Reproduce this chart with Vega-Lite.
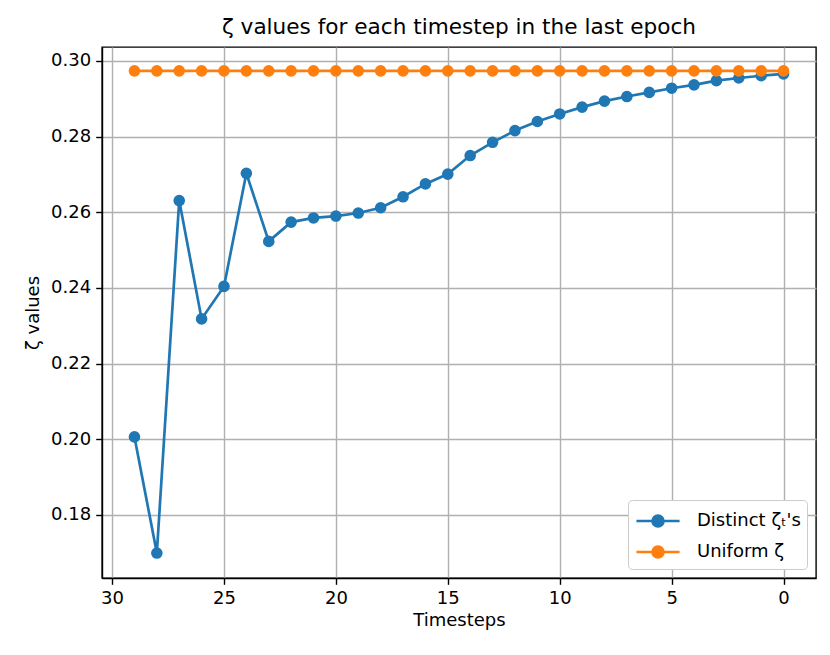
{
  "$schema": "https://vega.github.io/schema/vega-lite/v6.json",
  "width": 714,
  "height": 531,
  "autosize": {"type": "none"},
  "padding": {"left": 102, "top": 47, "right": 14, "bottom": 77},
  "background": "white",
  "title": {
    "text": "ζ values for each timestep in the last epoch",
    "font": "DejaVu Sans",
    "fontSize": 21.6,
    "fontWeight": "normal",
    "color": "black",
    "offset": 8
  },
  "config": {
    "view": {"stroke": "black", "strokeWidth": 1.4},
    "font": "DejaVu Sans",
    "axis": {
      "labelFont": "DejaVu Sans",
      "labelFontSize": 18,
      "labelColor": "black",
      "titleFont": "DejaVu Sans",
      "titleFontSize": 18,
      "titleFontWeight": "normal",
      "titleColor": "black",
      "domainColor": "black",
      "domainWidth": 1.4,
      "tickColor": "black",
      "tickSize": 6.3,
      "tickWidth": 1.4,
      "gridColor": "#b0b0b0",
      "gridWidth": 1.4,
      "gridOpacity": 1,
      "labelPadding": 5
    }
  },
  "data": {
    "values": [
      {"t": 29, "z": 0.2006, "series": "Distinct ζₜ's"},
      {"t": 28, "z": 0.1699, "series": "Distinct ζₜ's"},
      {"t": 27, "z": 0.2631, "series": "Distinct ζₜ's"},
      {"t": 26, "z": 0.2318, "series": "Distinct ζₜ's"},
      {"t": 25, "z": 0.2404, "series": "Distinct ζₜ's"},
      {"t": 24, "z": 0.2703, "series": "Distinct ζₜ's"},
      {"t": 23, "z": 0.2523, "series": "Distinct ζₜ's"},
      {"t": 22, "z": 0.2574, "series": "Distinct ζₜ's"},
      {"t": 21, "z": 0.2585, "series": "Distinct ζₜ's"},
      {"t": 20, "z": 0.2590, "series": "Distinct ζₜ's"},
      {"t": 19, "z": 0.2598, "series": "Distinct ζₜ's"},
      {"t": 18, "z": 0.2612, "series": "Distinct ζₜ's"},
      {"t": 17, "z": 0.2641, "series": "Distinct ζₜ's"},
      {"t": 16, "z": 0.2675, "series": "Distinct ζₜ's"},
      {"t": 15, "z": 0.2701, "series": "Distinct ζₜ's"},
      {"t": 14, "z": 0.2750, "series": "Distinct ζₜ's"},
      {"t": 13, "z": 0.2785, "series": "Distinct ζₜ's"},
      {"t": 12, "z": 0.2816, "series": "Distinct ζₜ's"},
      {"t": 11, "z": 0.2840, "series": "Distinct ζₜ's"},
      {"t": 10, "z": 0.2860, "series": "Distinct ζₜ's"},
      {"t": 9, "z": 0.2878, "series": "Distinct ζₜ's"},
      {"t": 8, "z": 0.2894, "series": "Distinct ζₜ's"},
      {"t": 7, "z": 0.2906, "series": "Distinct ζₜ's"},
      {"t": 6, "z": 0.2917, "series": "Distinct ζₜ's"},
      {"t": 5, "z": 0.2928, "series": "Distinct ζₜ's"},
      {"t": 4, "z": 0.2937, "series": "Distinct ζₜ's"},
      {"t": 3, "z": 0.2948, "series": "Distinct ζₜ's"},
      {"t": 2, "z": 0.2955, "series": "Distinct ζₜ's"},
      {"t": 1, "z": 0.2961, "series": "Distinct ζₜ's"},
      {"t": 0, "z": 0.2966, "series": "Distinct ζₜ's"},
      {"t": 29, "z": 0.2974, "series": "Uniform ζ"},
      {"t": 28, "z": 0.2974, "series": "Uniform ζ"},
      {"t": 27, "z": 0.2974, "series": "Uniform ζ"},
      {"t": 26, "z": 0.2974, "series": "Uniform ζ"},
      {"t": 25, "z": 0.2974, "series": "Uniform ζ"},
      {"t": 24, "z": 0.2974, "series": "Uniform ζ"},
      {"t": 23, "z": 0.2974, "series": "Uniform ζ"},
      {"t": 22, "z": 0.2974, "series": "Uniform ζ"},
      {"t": 21, "z": 0.2974, "series": "Uniform ζ"},
      {"t": 20, "z": 0.2974, "series": "Uniform ζ"},
      {"t": 19, "z": 0.2974, "series": "Uniform ζ"},
      {"t": 18, "z": 0.2974, "series": "Uniform ζ"},
      {"t": 17, "z": 0.2974, "series": "Uniform ζ"},
      {"t": 16, "z": 0.2974, "series": "Uniform ζ"},
      {"t": 15, "z": 0.2974, "series": "Uniform ζ"},
      {"t": 14, "z": 0.2974, "series": "Uniform ζ"},
      {"t": 13, "z": 0.2974, "series": "Uniform ζ"},
      {"t": 12, "z": 0.2974, "series": "Uniform ζ"},
      {"t": 11, "z": 0.2974, "series": "Uniform ζ"},
      {"t": 10, "z": 0.2974, "series": "Uniform ζ"},
      {"t": 9, "z": 0.2974, "series": "Uniform ζ"},
      {"t": 8, "z": 0.2974, "series": "Uniform ζ"},
      {"t": 7, "z": 0.2974, "series": "Uniform ζ"},
      {"t": 6, "z": 0.2974, "series": "Uniform ζ"},
      {"t": 5, "z": 0.2974, "series": "Uniform ζ"},
      {"t": 4, "z": 0.2974, "series": "Uniform ζ"},
      {"t": 3, "z": 0.2974, "series": "Uniform ζ"},
      {"t": 2, "z": 0.2974, "series": "Uniform ζ"},
      {"t": 1, "z": 0.2974, "series": "Uniform ζ"},
      {"t": 0, "z": 0.2974, "series": "Uniform ζ"}
    ]
  },
  "encoding": {
    "x": {
      "field": "t",
      "type": "quantitative",
      "title": "Timesteps",
      "scale": {"domain": [-1.45, 30.45], "reverse": true, "nice": false, "zero": false},
      "axis": {"values": [0, 5, 10, 15, 20, 25, 30], "format": "d", "titlePadding": 4}
    },
    "y": {
      "field": "z",
      "type": "quantitative",
      "title": "ζ values",
      "scale": {"domain": [0.1633, 0.3037], "nice": false, "zero": false},
      "axis": {"values": [0.18, 0.20, 0.22, 0.24, 0.26, 0.28, 0.30], "format": ".2f", "titlePadding": 8}
    },
    "color": {
      "field": "series",
      "type": "nominal",
      "scale": {"domain": ["Distinct ζₜ's", "Uniform ζ"], "range": ["#1f77b4", "#ff7f0e"]},
      "legend": {
        "title": null,
        "orient": "bottom-right",
        "offset": 9,
        "fillColor": "white",
        "strokeColor": "#cccccc",
        "cornerRadius": 4,
        "padding": 5.5,
        "labelFont": "DejaVu Sans",
        "labelFontSize": 18,
        "labelColor": "black",
        "labelOffset": 23.5,
        "symbolOffset": 9,
        "rowPadding": 4,
        "symbolType": "M-1.54,0L1.54,0M-0.39,0a0.39,0.39 0 1,0 0.78,0a0.39,0.39 0 1,0 -0.78,0Z",
        "symbolSize": 784,
        "symbolStrokeWidth": 2.7,
        "symbolOpacity": 1,
        "encode": {
          "symbols": {
            "update": {
              "stroke": {"field": "value", "scale": "color"},
              "fill": {"field": "value", "scale": "color"},
              "strokeWidth": {"value": 2.7}
            }
          }
        }
      }
    }
  },
  "layer": [
    {
      "transform": [{"filter": "datum.series !== 'Uniform ζ'"}],
      "mark": {"type": "line", "strokeWidth": 2.7}
    },
    {
      "transform": [{"filter": "datum.series !== 'Uniform ζ'"}],
      "mark": {"type": "point", "filled": true, "size": 135, "opacity": 1}
    },
    {
      "transform": [{"filter": "datum.series === 'Uniform ζ'"}],
      "mark": {"type": "line", "strokeWidth": 2.7}
    },
    {
      "transform": [{"filter": "datum.series === 'Uniform ζ'"}],
      "mark": {"type": "point", "filled": true, "size": 135, "opacity": 1}
    }
  ]
}
